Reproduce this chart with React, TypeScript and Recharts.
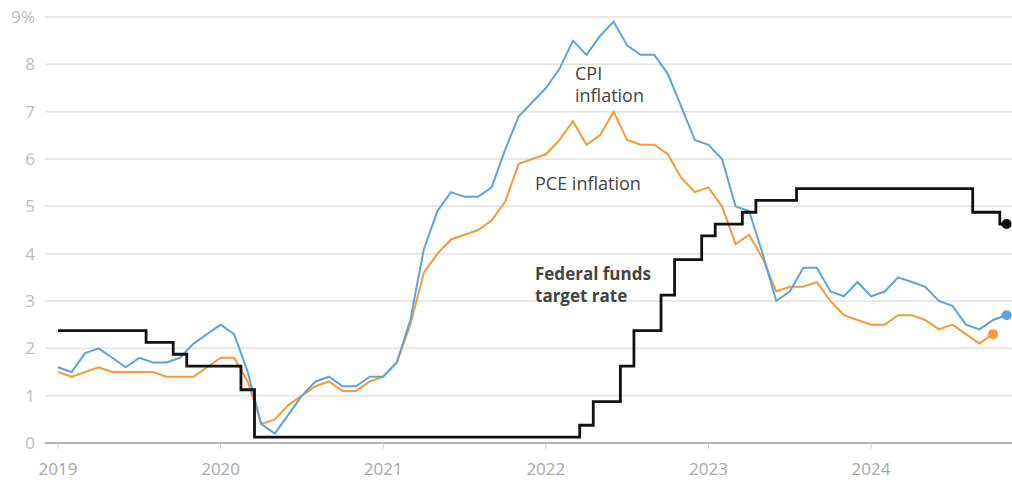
import React from 'react';
import { LineChart, Line, XAxis, YAxis, CartesianGrid, ReferenceDot } from 'recharts';

const months = [
  '2019-01','2019-02','2019-03','2019-04','2019-05','2019-06','2019-07','2019-08','2019-09','2019-10','2019-11','2019-12',
  '2020-01','2020-02','2020-03','2020-04','2020-05','2020-06','2020-07','2020-08','2020-09','2020-10','2020-11','2020-12',
  '2021-01','2021-02','2021-03','2021-04','2021-05','2021-06','2021-07','2021-08','2021-09','2021-10','2021-11','2021-12',
  '2022-01','2022-02','2022-03','2022-04','2022-05','2022-06','2022-07','2022-08','2022-09','2022-10','2022-11','2022-12',
  '2023-01','2023-02','2023-03','2023-04','2023-05','2023-06','2023-07','2023-08','2023-09','2023-10','2023-11','2023-12',
  '2024-01','2024-02','2024-03','2024-04','2024-05','2024-06','2024-07','2024-08','2024-09','2024-10','2024-11',
];

const cpi = [
  1.6, 1.5, 1.9, 2.0, 1.8, 1.6, 1.8, 1.7, 1.7, 1.8, 2.1, 2.3,
  2.5, 2.3, 1.5, 0.4, 0.2, 0.6, 1.0, 1.3, 1.4, 1.2, 1.2, 1.4,
  1.4, 1.7, 2.6, 4.1, 4.9, 5.3, 5.2, 5.2, 5.4, 6.2, 6.9, 7.2,
  7.5, 7.9, 8.5, 8.2, 8.6, 8.9, 8.4, 8.2, 8.2, 7.8, 7.1, 6.4,
  6.3, 6.0, 5.0, 4.9, 4.0, 3.0, 3.2, 3.7, 3.7, 3.2, 3.1, 3.4,
  3.1, 3.2, 3.5, 3.4, 3.3, 3.0, 2.9, 2.5, 2.4, 2.6, 2.7,
];

const pce = [
  1.5, 1.4, 1.5, 1.6, 1.5, 1.5, 1.5, 1.5, 1.4, 1.4, 1.4, 1.6,
  1.8, 1.8, 1.3, 0.4, 0.5, 0.8, 1.0, 1.2, 1.3, 1.1, 1.1, 1.3,
  1.4, 1.7, 2.5, 3.6, 4.0, 4.3, 4.4, 4.5, 4.7, 5.1, 5.9, 6.0,
  6.1, 6.4, 6.8, 6.3, 6.5, 7.0, 6.4, 6.3, 6.3, 6.1, 5.6, 5.3,
  5.4, 5.0, 4.2, 4.4, 3.9, 3.2, 3.3, 3.3, 3.4, 3.0, 2.7, 2.6,
  2.5, 2.5, 2.7, 2.7, 2.6, 2.4, 2.5, 2.3, 2.1, 2.3,
];

const fedFunds = [
  2.375, 2.375, 2.375, 2.375, 2.375, 2.375, 2.375, 2.125, 2.125, 1.875, 1.625, 1.625,
  1.625, 1.625, 1.125, 0.125, 0.125, 0.125, 0.125, 0.125, 0.125, 0.125, 0.125, 0.125,
  0.125, 0.125, 0.125, 0.125, 0.125, 0.125, 0.125, 0.125, 0.125, 0.125, 0.125, 0.125,
  0.125, 0.125, 0.125, 0.375, 0.875, 0.875, 1.625, 2.375, 2.375, 3.125, 3.875, 3.875,
  4.375, 4.625, 4.625, 4.875, 5.125, 5.125, 5.125, 5.375, 5.375, 5.375, 5.375, 5.375,
  5.375, 5.375, 5.375, 5.375, 5.375, 5.375, 5.375, 5.375, 4.875, 4.875, 4.625,
];

const yTicks = [0, 1, 2, 3, 4, 5, 6, 7, 8, 9];

const annotations = [
  { lines: ['CPI', 'inflation'], x: 38.15, y: 7.67, bold: false },
  { lines: ['PCE inflation'], x: 35.2, y: 5.35, bold: false },
  { lines: ['Federal funds', 'target rate'], x: 35.2, y: 3.45, bold: true },
];

const COLORS = { cpi: '#5ea4da', pce: '#f39b3b', ff: '#111111' };

const data = months.map((m, i) => ({
  i,
  month: m,
  cpi: cpi[i] ?? null,
  pce: pce[i] ?? null,
  ff: fedFunds[i] ?? null,
}));

const yearTicks = data.filter((d) => d.month.endsWith('-01')).map((d) => d.i);

const endDot = (arr: number[], color: string) => (props: any) => {
  const { cx, cy, index } = props;
  if (index !== arr.length - 1 || cx == null || cy == null) return <g key={`d${index}`} />;
  return <circle key={`d${index}`} cx={cx} cy={cy} r={5} fill={color} stroke="none" />;
};

const AnnotationLabel = (props: any) => {
  const { viewBox, lines, bold } = props;
  if (!viewBox) return null;
  const x = viewBox.x + (viewBox.width || 0) / 2;
  const y = viewBox.y + (viewBox.height || 0) / 2;
  return (
    <text x={x} y={y} fill="#444444" fontSize={bold ? 17 : 18} fontWeight={bold ? 700 : 400} fontFamily="'Open Sans', sans-serif">
      {lines.map((l: string, k: number) => (
        <tspan key={k} x={x} dy={k === 0 ? 0 : 22}>
          {l}
        </tspan>
      ))}
    </text>
  );
};

export default function App() {
  return (
    <div style={{ position: 'absolute', left: 0, top: 0, width: 1012, height: 480, background: '#fff' }}>
      <LineChart
        width={1012}
        height={480}
        data={data}
        margin={{ top: 17, right: 0, bottom: 0, left: 0 }}
        style={{ fontFamily: "'Open Sans', sans-serif" }}
      >
        <CartesianGrid horizontal vertical={false} stroke="#e2e2e2" strokeWidth={1.5} />
        <XAxis
          type="number"
          dataKey="i"
          domain={[-0.96, 70.4]}
          allowDataOverflow
          ticks={yearTicks}
          tickFormatter={(v: number) => data[v].month.slice(0, 4)}
          axisLine={{ stroke: '#a0a0a0', strokeWidth: 1.5 }}
          tickLine={{ stroke: '#cccccc' }}
          tickSize={6}
          tickMargin={14}
          height={37}
          tick={{ fill: '#a8a8a8', fontSize: 17 }}
          interval={0}
        />
        <YAxis
          type="number"
          domain={[0, 9]}
          ticks={yTicks}
          tickFormatter={(v: number) => (v === 9 ? '9%' : String(v))}
          axisLine={false}
          tickLine={false}
          tickSize={0}
          tickMargin={10}
          width={45}
          tick={{ fill: '#bdbdbd', fontSize: 17 }}
          interval={0}
        />
        <Line
          dataKey="pce"
          type="linear"
          stroke={COLORS.pce}
          strokeWidth={2}
          dot={endDot(pce, COLORS.pce)}
          activeDot={false}
          isAnimationActive={false}
          connectNulls={false}
        />
        <Line
          dataKey="cpi"
          type="linear"
          stroke={COLORS.cpi}
          strokeWidth={2}
          dot={endDot(cpi, COLORS.cpi)}
          activeDot={false}
          isAnimationActive={false}
        />
        <Line
          dataKey="ff"
          type="step"
          stroke={COLORS.ff}
          strokeWidth={2.8}
          dot={endDot(fedFunds, COLORS.ff)}
          activeDot={false}
          isAnimationActive={false}
        />
        {annotations.map((a, k) => (
          <ReferenceDot
            key={k}
            x={a.x}
            y={a.y}
            r={0}
            fill="none"
            stroke="none"
            label={<AnnotationLabel lines={a.lines} bold={a.bold} />}
          />
        ))}
      </LineChart>
    </div>
  );
}
